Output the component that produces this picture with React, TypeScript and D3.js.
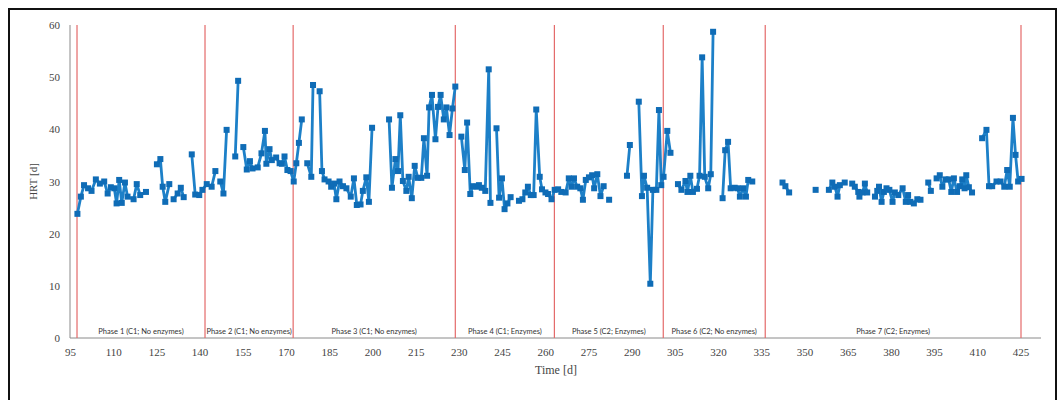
import React from "react";
import * as d3 from "d3";

type Pt = [number, number] | null;

// HRT readings [day, HRT in d]; null marks a break in the logged series
const phase1: Pt[] = [
  [97.4, 23.8], [98.6, 27.1], [99.7, 29.3], [101.1, 28.7], [102.3, 28.2], [103.8, 30.4],
  [105.2, 29.6], [106.7, 30.0], [107.9, 27.7], [109.0, 28.9], [110.2, 28.7], [111.0, 25.8],
  [111.9, 30.3], [112.8, 25.9], [113.9, 29.8], [114.8, 27.1], [116.9, 26.6], [118.0, 29.5],
  [119.2, 27.4], [121.2, 28.0], null,
  [125.0, 33.3], [126.2, 34.3], [127.0, 29.0], [127.9, 26.1], [129.3, 29.5], null,
  [130.8, 26.6], [132.2, 27.7], [133.3, 28.8], [134.3, 27.0], null,
  [137.1, 35.2], [138.3, 27.5], [139.7, 27.4], [140.8, 28.4],
];
const phase2: Pt[] = [
  [142.3, 29.5], [144.0, 29.0], [145.3, 32.0], null,
  [147.0, 30.0], [148.1, 27.7], [149.2, 39.9], null,
  [152.2, 34.8], [153.2, 49.3], null,
  [155.0, 36.6], [156.2, 32.3], [157.3, 33.9], [158.2, 32.5], [160.0, 32.7], [161.3, 35.4],
  [162.5, 39.7], [163.0, 33.4], [164.1, 36.2], [164.9, 34.1], [166.4, 34.6], [167.6, 33.5],
  [168.4, 33.4], [169.3, 34.8], [170.3, 32.2], [171.4, 32.0],
];
const phase3: Pt[] = [
  [172.5, 30.0], [173.4, 33.5], [174.3, 37.4], [175.3, 41.9], null,
  [177.2, 33.5], [178.6, 30.9], [179.2, 48.5], null,
  [181.5, 47.3], [182.3, 32.0], [183.2, 30.4], [184.6, 30.0], [185.5, 29.0], [186.5, 29.6],
  [187.3, 26.6], [188.4, 30.0], [189.6, 29.1], [190.8, 28.7], [192.3, 27.1], [193.4, 30.6],
  [194.4, 25.5], [195.7, 25.6], [196.5, 28.2], [197.7, 30.8], [198.6, 26.1], [199.7, 40.3], null,
  [205.6, 41.9], [206.6, 28.8], [207.8, 34.3], [208.7, 32.0], [209.5, 42.7], [210.4, 30.1],
  [211.6, 28.2], [212.4, 30.9], [213.5, 26.8], [214.5, 33.0], [215.6, 30.7], [216.8, 30.7],
  [217.7, 38.3], [218.8, 31.1], [219.5, 44.2], [220.5, 46.6], [221.7, 38.1], [222.6, 44.3],
  [223.5, 46.6], [224.6, 41.9], [225.5, 44.2], [226.6, 38.9], [227.6, 44.0], [228.6, 48.2], null,
];
const phase4: Pt[] = [
  [230.7, 38.6], [231.9, 32.2], [232.7, 41.3], [233.8, 27.6], [234.7, 29.1], [235.9, 29.0],
  [236.8, 29.3], [237.8, 28.8], [239.0, 28.2], [240.2, 51.5], [240.8, 25.9], null,
  [242.9, 40.2], [243.8, 26.9], [244.8, 30.6], [245.7, 24.7], [246.7, 25.8], [247.8, 27.0], null,
  [250.7, 26.3], [251.9, 26.6], [252.9, 27.9], [253.8, 29.0], [254.8, 27.4], [255.8, 27.4],
  [256.7, 43.8], [257.9, 30.9], [258.7, 28.5], [259.9, 27.9], [260.8, 27.6], [262.0, 26.6],
];
const phase5: Pt[] = [
  [263.1, 28.4], [264.3, 28.5], [265.4, 28.0], [266.9, 27.9], [268.0, 30.6], [268.9, 29.0],
  [269.8, 30.6], [270.9, 29.0], [272.0, 28.7], [272.9, 26.5], [273.9, 30.3], [275.0, 30.8],
  [276.1, 31.2], [276.8, 28.7], [277.9, 31.4], [279.0, 27.2], [280.1, 29.1], null,
  [282.0, 26.5], null,
  [288.2, 31.1], [289.2, 37.0], null,
  [292.3, 45.3], [293.4, 27.2], [294.1, 31.1], [295.2, 28.8], [296.3, 10.4], [297.2, 28.4],
  [298.4, 28.4], [299.3, 43.7], [300.1, 29.3],
];
const phase6: Pt[] = [
  [300.9, 30.9], [302.2, 39.7], [303.3, 35.5], null,
  [305.9, 29.5], [307.1, 28.4], [308.5, 30.1], [309.2, 28.0], [310.2, 31.1], [311.1, 28.0],
  [312.5, 28.6], [313.4, 31.1], [314.3, 53.8], [315.2, 30.9], [316.4, 28.7], [317.3, 31.4],
  [318.1, 58.7], null,
  [321.4, 26.8], [322.3, 36.0], [323.3, 37.6], [324.2, 28.7], [325.6, 28.8], [326.6, 28.7],
  [327.4, 27.1], [328.5, 28.7], [329.5, 27.1], [330.3, 30.3], [331.7, 30.0], null,
];
const phase7: Pt[] = [
  [342.2, 29.8], [343.2, 29.1], [344.5, 27.9], null,
  [353.7, 28.4], null,
  [358.3, 28.4], [359.5, 29.8], [360.4, 29.0], [361.3, 27.1], [362.1, 29.3], [363.8, 29.8], null,
  [366.4, 29.6], [367.3, 29.0], [368.5, 28.0], [368.9, 27.1], [370.0, 27.9], [370.8, 29.6],
  [371.6, 27.9], null,
  [374.3, 27.1], [375.1, 28.2], [375.7, 29.0], [376.6, 26.1], [377.4, 28.0], [378.3, 28.7],
  [379.3, 28.4], [380.4, 26.1], [381.2, 27.9], [382.4, 27.4], [383.9, 28.7], [385.0, 26.1],
  [385.8, 27.4], [386.6, 26.1], [387.8, 25.8], [389.0, 26.6], [390.1, 26.5], null,
  [392.8, 29.8], [393.7, 28.2], null,
  [395.7, 30.6], [396.8, 31.2], [397.7, 29.0], [398.8, 30.4], [399.9, 30.4], [400.8, 28.0],
  [401.7, 30.6], [402.8, 28.0], [403.8, 29.1], [404.6, 30.4], [405.4, 28.7], [406.0, 31.2],
  [406.9, 28.9], [408.0, 27.9], null,
  [411.5, 38.3], [413.0, 39.9], [413.9, 29.1], [415.0, 29.1], [416.5, 30.0], [417.9, 30.0],
  [419.2, 29.0], [420.2, 32.2], [421.1, 29.0], [422.2, 42.2], [423.1, 35.1], [424.0, 30.0],
  [425.2, 30.5],
];

// Phase change days (red markers) and their descriptions
const phaseBounds = [97.26, 141.7, 172.3, 228.6, 263.0, 300.8, 336.2, 425];
const phaseLabels = [
  "Phase 1 (C1; No enzymes)",
  "Phase 2 (C1; No enzymes)",
  "Phase 3 (C1; No enzymes)",
  "Phase 4 (C1; Enzymes)",
  "Phase 5 (C2; Enzymes)",
  "Phase 6 (C2; No enzymes)",
  "Phase 7 (C2; Enzymes)",
];

const xTicks = d3.range(95, 426, 15);
const yTicks = [0, 10, 20, 30, 40, 50, 60];

const W = 1064;
const H = 400;

export default function App() {
  const series: Pt[] = [...phase1, ...phase2, ...phase3, ...phase4, ...phase5, ...phase6, ...phase7];
  const points = series.filter((p): p is [number, number] => p !== null);

  const x = d3.scaleLinear().domain([95, 425]).range([70.5, 1021]);
  const y = d3.scaleLinear().domain([0, 60]).range([338, 25]);
  const axisEnd = 1041;

  const line = d3
    .line<Pt>()
    .defined((d) => d !== null)
    .x((d) => x((d as [number, number])[0]))
    .y((d) => y((d as [number, number])[1]));

  const serif = "'Liberation Serif', 'DejaVu Serif', serif";
  const ms = 6;

  return (
    <svg
      width={W}
      height={H}
      style={{ position: "absolute", left: 0, top: 0, background: "#fff" }}
      fontFamily={serif}
    >
      <rect x={0} y={0} width={W} height={H} fill="#fff" />
      {/* outer frame, open at the bottom edge */}
      <rect x={9} y={9} width={1047} height={H + 10} fill="none" stroke="#111" strokeWidth={2} />

      {/* axes */}
      <line x1={70} x2={70} y1={y(60)} y2={y(0)} stroke="#8a8a8a" strokeWidth={1} />
      <line x1={70} x2={axisEnd} y1={y(0)} y2={y(0)} stroke="#8a8a8a" strokeWidth={1} />

      {yTicks.map((t) => (
        <text key={t} x={60} y={y(t) + 4} textAnchor="end" fontSize={11} fill="#444">
          {t}
        </text>
      ))}
      {xTicks.map((t) => (
        <text key={t} x={x(t)} y={356} textAnchor="middle" fontSize={11} fill="#444">
          {t}
        </text>
      ))}
      <text
        transform={`translate(37,${(y(0) + y(60)) / 2}) rotate(-90)`}
        textAnchor="middle"
        fontSize={11}
        fill="#444"
      >
        HRT [d]
      </text>
      <text x={556} y={374} textAnchor="middle" fontSize={12} fill="#444">
        Time [d]
      </text>

      {/* phase boundaries */}
      {phaseBounds.map((d, i) => (
        <line
          key={i}
          x1={x(d)}
          x2={x(d)}
          y1={y(60)}
          y2={y(0)}
          stroke="#e46a6a"
          strokeWidth={1.2}
        />
      ))}
      {phaseLabels.map((lab, i) => (
        <text
          key={lab}
          x={(x(phaseBounds[i]) + x(phaseBounds[i + 1])) / 2}
          y={334}
          textAnchor="middle"
          fontSize={7.5}
          fontFamily="Lato, 'Liberation Sans', sans-serif"
          fill="#333"
        >
          {lab}
        </text>
      ))}

      {/* HRT series */}
      <path d={line(series) ?? ""} fill="none" stroke="#1d80c8" strokeWidth={2.8} strokeLinejoin="round" />
      {points.map((p, i) => (
        <rect
          key={i}
          x={x(p[0]) - ms / 2}
          y={y(p[1]) - ms / 2}
          width={ms}
          height={ms}
          fill="#0f6cb6"
        />
      ))}
    </svg>
  );
}
